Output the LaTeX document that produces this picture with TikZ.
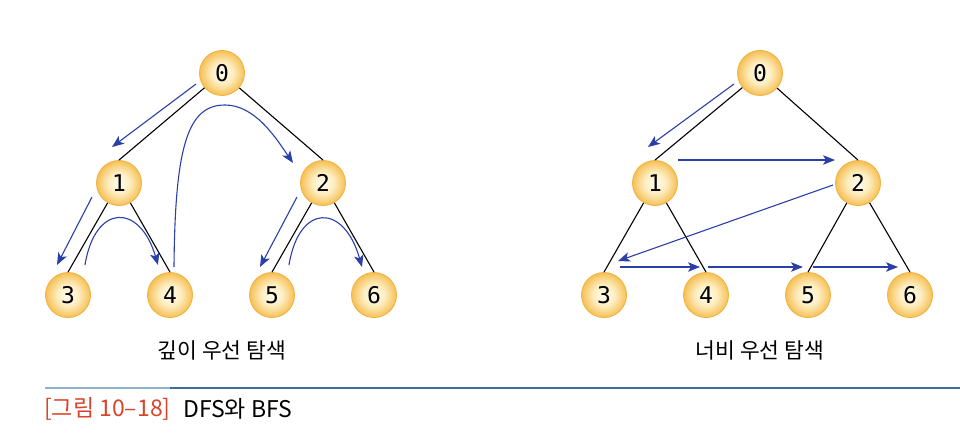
\documentclass[tikz,border=0pt]{standalone}
\usepackage{fontspec}
\usetikzlibrary{arrows.meta}
\newfontfamily\krfont{Noto Sans CJK KR}
\newfontfamily\digitfont{DejaVu Sans Mono}
\definecolor{ballEdge}{HTML}{F0B445}
\definecolor{ballIn}{HTML}{FFFCF0}
\definecolor{ballMid}{HTML}{FDEDC0}
\definecolor{ballOut}{HTML}{F6C055}
\definecolor{arrowBlue}{HTML}{2B3FA8}
\definecolor{capRed}{HTML}{D8452A}
\definecolor{ruleBlue}{HTML}{3E6F92}
\definecolor{ruleLight}{HTML}{8FB0C6}
\pgfdeclareradialshading{ballshade}{\pgfpoint{0bp}{0bp}}{color(0bp)=(ballIn); color(12bp)=(ballMid); color(25bp)=(ballOut); color(50bp)=(ballOut)}
\tikzset{
  ball/.style={circle, minimum size=45pt, inner sep=0pt, draw=ballEdge, line width=0.9pt, shading=ballshade, font=\digitfont\fontsize{23}{23}\selectfont},
  edge/.style={draw=black, line width=1.1pt},
  trav/.style={draw=arrowBlue, line width=1.1pt, -{Stealth[length=12pt,width=9.5pt,inset=3pt]}},
  lab/.style={font=\krfont\fontsize{21.5}{24}\selectfont, inner sep=0pt}
}
\begin{document}
\begin{tikzpicture}[x=1pt,y=-1pt]
\useasboundingbox (0,0) rectangle (960,441);
% left tree (DFS)
\node[ball] (L0) at (222,73) {0};
\node[ball] (L1) at (119,183) {1};
\node[ball] (L2) at (323,183) {2};
\node[ball] (L3) at (68,295) {3};
\node[ball] (L4) at (170,295) {4};
\node[ball] (L5) at (272,295) {5};
\node[ball] (L6) at (374,295) {6};
\draw[edge] (L0) -- (L1.north);
\draw[edge] (L0) -- (L2.north);
\draw[edge] (L1) -- (L3.north);
\draw[edge] (L1) -- (L4.north);
\draw[edge] (L2) -- (L5.north);
\draw[edge] (L2) -- (L6.north);
% right tree (BFS)
\node[ball] (R0) at (760,73) {0};
\node[ball] (R1) at (655,183) {1};
\node[ball] (R2) at (858,183) {2};
\node[ball] (R3) at (604,295) {3};
\node[ball] (R4) at (706,295) {4};
\node[ball] (R5) at (808,295) {5};
\node[ball] (R6) at (910,295) {6};
\draw[edge] (R0) -- (R1.north);
\draw[edge] (R0) -- (R2.north);
\draw[edge] (R1) -- (R3.north);
\draw[edge] (R1) -- (R4.north);
\draw[edge] (R2) -- (R5.north);
\draw[edge] (R2) -- (R6.north);
% DFS traversal arrows
\coordinate (d1s) at (196,84);  \coordinate (d1e) at (112,147);
\coordinate (d2s) at (174,267); \coordinate (d2m) at (225,105); \coordinate (d2e) at (293,163);
\coordinate (d3s) at (92,197);  \coordinate (d3e) at (57,265);
\coordinate (d4s) at (85,265);  \coordinate (d4e) at (158,265);
\coordinate (d5s) at (297,197); \coordinate (d5e) at (260,267);
\coordinate (d6s) at (289,265); \coordinate (d6e) at (362,267);
\draw[trav] (d1s) -- (d1e);
\draw[trav] (d2s) .. controls (175,145) and (188,105) .. (d2m) .. controls (255,105) and (276,138) .. (d2e);
\draw[trav] (d3s) -- (d3e);
\draw[trav] (d4s) .. controls (95,203) and (140,203) .. (d4e);
\draw[trav] (d5s) -- (d5e);
\draw[trav] (d6s) .. controls (299,203) and (344,203) .. (d6e);
% BFS traversal arrows
\coordinate (b1s) at (734,84);  \coordinate (b1e) at (648,147);
\coordinate (b2s) at (678,160); \coordinate (b2e) at (835,160);
\coordinate (b3s) at (833,185); \coordinate (b3e) at (618,261);
\coordinate (b4s) at (620,267); \coordinate (b4e) at (700,267);
\coordinate (b5s) at (708,267); \coordinate (b5e) at (803,267);
\coordinate (b6s) at (813,267); \coordinate (b6e) at (898,267);
\draw[trav] (b1s) -- (b1e);
\draw[trav] (b2s) -- (b2e);
\draw[trav] (b3s) -- (b3e);
\draw[trav] (b4s) -- (b4e);
\draw[trav] (b5s) -- (b5e);
\draw[trav] (b6s) -- (b6e);
% labels
\node[lab] (labL) at (222,350) {깊이 우선 탐색};
\node[lab] (labR) at (760,350) {너비 우선 탐색};
% caption rule
\coordinate (r0) at (45,388); \coordinate (r1) at (170,388); \coordinate (r2) at (960,388);
\draw[ruleLight, line width=1.1pt] (r0) -- (r1);
\draw[ruleBlue, line width=1.1pt] (r1) -- (r2);
\node[anchor=west, inner sep=0pt, font=\krfont\fontsize{23}{25}\selectfont, text=capRed] (cap1) at (44,409) {[그림 10–18]};
\node[anchor=west, inner sep=0pt, font=\krfont\fontsize{23}{25}\selectfont] (cap2) at (183,409) {DFS와 BFS};
\end{tikzpicture}
\end{document}
